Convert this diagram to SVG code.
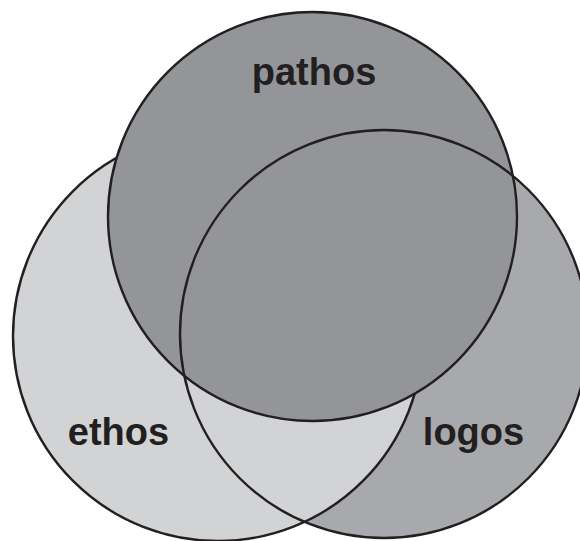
<svg xmlns="http://www.w3.org/2000/svg" width="580" height="541" viewBox="0 0 580 541">
<style>
.outline{fill:none;stroke:#231f20;stroke-width:2.4}
.stroked{stroke:#231f20;stroke-width:2.4}
.label{font-family:"Liberation Sans",Arial,sans-serif;font-weight:bold;font-size:38px;fill:#231f20;text-anchor:middle}
</style>
<rect width="580" height="541" fill="#ffffff"/>
<g id="logos-fill">
<circle cx="384" cy="334" r="204" fill="#a7a9ac"/>
</g>
<g id="ethos">
<circle class="stroked" cx="218" cy="336" r="205" fill="#d1d3d4"/>
<text class="label" x="118.5" y="445">ethos</text>
</g>
<g id="pathos">
<circle class="stroked" cx="312.5" cy="216.5" r="204.5" fill="#939598"/>
<text class="label" x="314" y="85">pathos</text>
</g>
<g id="logos">
<circle class="outline" cx="384" cy="334" r="204"/>
<text class="label" x="473.5" y="445">logos</text>
</g>
</svg>
